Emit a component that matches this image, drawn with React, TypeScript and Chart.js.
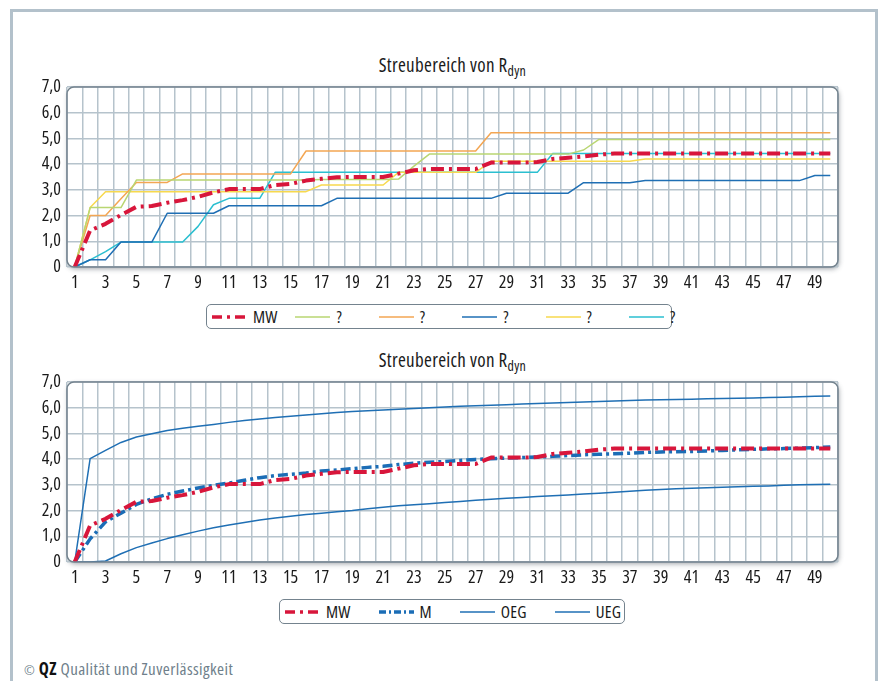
import React, { useEffect, useRef } from 'react';
import { Chart, registerables } from 'chart.js';

Chart.register(...registerables);

const FONT = "'Open Sans', 'DejaVu Sans Condensed', sans-serif";
const STRETCH = 'condensed';
const GRID = '#b6c3cc';
const FRAME = '#74838e';
const TEXT = '#1a1a1a';

const CATEGORIES = Array.from({ length: 50 }, (_, i) => String(i + 1));
const Y_TICK_LABELS = ['0', '1,0', '2,0', '3,0', '4,0', '5,0', '6,0', '7,0'];
const TITLE_MAIN = 'Streubereich von R';
const TITLE_SUB = 'dyn';

// top chart series
const MW = [0, 1.42, 1.68, 2.02, 2.34, 2.37, 2.5, 2.6, 2.73, 2.9, 3.03, 3.03, 3.03, 3.19, 3.23, 3.36, 3.43, 3.49, 3.5, 3.5, 3.5, 3.63, 3.76, 3.81, 3.81, 3.81, 3.81, 4.06, 4.06, 4.06, 4.08, 4.2, 4.25, 4.3, 4.37, 4.41, 4.41, 4.41, 4.41, 4.41, 4.41, 4.41, 4.41, 4.41, 4.41, 4.41, 4.41, 4.41, 4.41, 4.41];
const S_GREEN = [0, 2.31, 2.31, 2.31, 3.38, 3.38, 3.38, 3.38, 3.38, 3.38, 3.38, 3.38, 3.38, 3.38, 3.38, 3.38, 3.4, 3.4, 3.4, 3.4, 3.4, 3.42, 3.92, 4.39, 4.39, 4.39, 4.39, 4.39, 4.39, 4.39, 4.39, 4.39, 4.39, 4.55, 4.96, 4.96, 4.96, 4.96, 4.96, 4.96, 4.96, 4.96, 4.96, 4.96, 4.96, 4.96, 4.96, 4.96, 4.96, 4.96];
const S_ORANGE = [0, 2.0, 2.0, 2.65, 3.29, 3.29, 3.29, 3.62, 3.62, 3.62, 3.62, 3.62, 3.62, 3.62, 3.62, 4.51, 4.51, 4.51, 4.51, 4.51, 4.51, 4.51, 4.51, 4.51, 4.51, 4.51, 4.51, 5.22, 5.22, 5.22, 5.22, 5.22, 5.22, 5.22, 5.22, 5.22, 5.22, 5.22, 5.22, 5.22, 5.22, 5.22, 5.22, 5.22, 5.22, 5.22, 5.22, 5.22, 5.22, 5.22];
const S_BLUE = [0, 0.28, 0.28, 0.97, 0.97, 0.97, 2.09, 2.09, 2.09, 2.09, 2.38, 2.38, 2.38, 2.38, 2.38, 2.38, 2.38, 2.67, 2.67, 2.67, 2.67, 2.67, 2.67, 2.67, 2.67, 2.67, 2.67, 2.67, 2.87, 2.87, 2.87, 2.87, 2.87, 3.28, 3.28, 3.28, 3.28, 3.36, 3.36, 3.36, 3.36, 3.36, 3.36, 3.36, 3.36, 3.36, 3.36, 3.36, 3.56, 3.56];
const S_YELLOW = [0, 2.31, 2.93, 2.93, 2.93, 2.93, 2.93, 2.93, 2.93, 2.93, 2.93, 2.93, 2.93, 2.93, 2.93, 2.93, 3.19, 3.19, 3.19, 3.19, 3.19, 3.68, 3.68, 3.68, 3.68, 3.68, 3.68, 4.11, 4.11, 4.11, 4.11, 4.11, 4.11, 4.11, 4.11, 4.11, 4.11, 4.2, 4.2, 4.2, 4.2, 4.2, 4.2, 4.2, 4.2, 4.2, 4.2, 4.2, 4.2, 4.2];
const S_CYAN = [0, 0.28, 0.6, 0.97, 0.97, 0.97, 0.97, 0.97, 1.58, 2.42, 2.67, 2.67, 2.67, 3.68, 3.68, 3.68, 3.68, 3.68, 3.68, 3.68, 3.68, 3.68, 3.68, 3.68, 3.68, 3.68, 3.68, 3.68, 3.68, 3.68, 3.68, 4.41, 4.41, 4.41, 4.41, 4.41, 4.41, 4.41, 4.41, 4.41, 4.41, 4.41, 4.41, 4.41, 4.41, 4.41, 4.41, 4.41, 4.41, 4.41];

// bottom chart series
const M = [0, 0.9, 1.56, 1.9, 2.24, 2.46, 2.63, 2.76, 2.88, 2.98, 3.07, 3.18, 3.28, 3.36, 3.41, 3.46, 3.54, 3.58, 3.63, 3.68, 3.72, 3.79, 3.84, 3.88, 3.91, 3.95, 3.99, 4.02, 4.04, 4.06, 4.08, 4.11, 4.14, 4.17, 4.19, 4.21, 4.23, 4.26, 4.28, 4.29, 4.3, 4.32, 4.34, 4.36, 4.38, 4.4, 4.41, 4.43, 4.45, 4.47];
const OEG = [0, 4.02, 4.34, 4.65, 4.86, 4.99, 5.11, 5.2, 5.28, 5.35, 5.43, 5.5, 5.56, 5.62, 5.67, 5.72, 5.77, 5.81, 5.85, 5.88, 5.91, 5.94, 5.97, 6.0, 6.03, 6.06, 6.08, 6.1, 6.12, 6.14, 6.16, 6.18, 6.2, 6.22, 6.24, 6.26, 6.28, 6.3, 6.31, 6.32, 6.33, 6.35, 6.36, 6.37, 6.38, 6.4, 6.41, 6.43, 6.45, 6.46];
const UEG = [0, 0, 0.04, 0.32, 0.56, 0.74, 0.91, 1.06, 1.2, 1.33, 1.44, 1.54, 1.63, 1.71, 1.78, 1.85, 1.9, 1.95, 2.0, 2.07, 2.13, 2.19, 2.23, 2.27, 2.31, 2.35, 2.4, 2.44, 2.48, 2.51, 2.55, 2.58, 2.61, 2.64, 2.67, 2.71, 2.75, 2.79, 2.82, 2.85, 2.87, 2.89, 2.91, 2.93, 2.95, 2.96, 2.98, 3.0, 3.01, 3.02];

const RED = '#d8163b';
const BLUE_M = '#1b6db6';
const MW_DASH = [13, 5, 3, 5];
const M_DASH = [10, 4, 3, 4];

type DS = { label: string; data: number[]; color: string; width: number; dash?: number[]; legendDash?: string };

const TOP_SERIES: DS[] = [
  { label: 'MW', data: MW, color: RED, width: 4, dash: MW_DASH, legendDash: '10 5 3 5' },
  { label: '?', data: S_GREEN, color: '#b9d672', width: 1.5 },
  { label: '?', data: S_ORANGE, color: '#f3a653', width: 1.5 },
  { label: '?', data: S_BLUE, color: '#1f6fb4', width: 1.5 },
  { label: '?', data: S_YELLOW, color: '#f7d94e', width: 1.5 },
  { label: '?', data: S_CYAN, color: '#2bbfd0', width: 1.5 },
];

const BOTTOM_SERIES: DS[] = [
  { label: 'MW', data: MW, color: RED, width: 4, dash: MW_DASH, legendDash: '10 5 3 5' },
  { label: 'M', data: M, color: BLUE_M, width: 3.5, dash: M_DASH, legendDash: '7 3 2 3' },
  { label: 'OEG', data: OEG, color: '#1f6fb4', width: 1.5 },
  { label: 'UEG', data: UEG, color: '#1f6fb4', width: 1.5 },
];

const plotFrame = {
  id: 'plotFrame',
  beforeDraw(chart: any) {
    const { ctx, chartArea: a } = chart;
    ctx.save();
    ctx.shadowColor = 'rgba(50,60,70,0.45)';
    ctx.shadowBlur = 5;
    ctx.shadowOffsetX = 1;
    ctx.shadowOffsetY = 2;
    ctx.fillStyle = '#ffffff';
    ctx.beginPath();
    ctx.roundRect(a.left, a.top, a.right - a.left, a.bottom - a.top, 7);
    ctx.fill();
    ctx.restore();
  },
  afterDraw(chart: any) {
    const { ctx, chartArea: a } = chart;
    ctx.save();
    ctx.strokeStyle = FRAME;
    ctx.lineWidth = 1.5;
    ctx.beginPath();
    ctx.roundRect(a.left, a.top, a.right - a.left, a.bottom - a.top, 7);
    ctx.stroke();
    ctx.restore();
  },
};

const PAD_TOP = 18;
const PLOT_H = 180;
const XAXIS_H = 26;
const CANVAS_H = PAD_TOP + PLOT_H + XAXIS_H;

function LineChart({ top, series }: { top: number; series: DS[] }) {
  const ref = useRef<HTMLCanvasElement | null>(null);
  useEffect(() => {
    if (!ref.current) return;
    const tickFont = { family: "'Open Sans'", size: 18, weight: STRETCH };
    const chart = new Chart(ref.current, {
      type: 'line',
      data: {
        labels: CATEGORIES,
        datasets: series.map((s) => ({
          label: s.label,
          data: s.data,
          borderColor: s.color,
          backgroundColor: s.color,
          borderWidth: s.width,
          borderDash: s.dash || [],
          borderCapStyle: 'butt',
          borderJoinStyle: 'round',
          pointRadius: 0,
          tension: 0,
          fill: false,
        })),
      },
      options: {
        responsive: false,
        animation: false,
        layout: { padding: { left: 10, right: 44, top: PAD_TOP, bottom: 0 } },
        plugins: { legend: { display: false }, title: { display: false }, tooltip: { enabled: false } },
        scales: {
          x: {
            type: 'category',
            offset: true,
            grid: { offset: true, color: GRID, lineWidth: 1.5, drawTicks: false },
            border: { display: false },
            ticks: {
              autoSkip: false,
              maxRotation: 0,
              minRotation: 0,
              padding: 5,
              color: TEXT,
              font: tickFont,
              callback: (_v: any, i: number) => (i % 2 === 0 ? CATEGORIES[i] : ''),
            },
            afterFit: (s: any) => { s.height = XAXIS_H; },
          },
          y: {
            min: 0,
            max: 7,
            grid: { color: GRID, lineWidth: 1.5, drawTicks: false },
            border: { display: false },
            ticks: {
              stepSize: 1,
              padding: 6,
              color: TEXT,
              font: tickFont,
              callback: (v: any) => Y_TICK_LABELS[Math.round(Number(v))],
            },
            afterFit: (s: any) => { s.width = 57; },
          },
        },
      } as any,
      plugins: [plotFrame],
    });
    return () => chart.destroy();
  }, [series]);
  return (
    <canvas
      ref={ref}
      width={882}
      height={CANVAS_H}
      style={{ position: 'absolute', left: 0, top, width: 882, height: CANVAS_H }}
    />
  );
}

function Title({ top }: { top: number }) {
  return (
    <div
      style={{
        position: 'absolute', left: 67, width: 771, top, textAlign: 'center',
        fontFamily: FONT, fontStretch: STRETCH, fontSize: 19, letterSpacing: '0.3px',
        lineHeight: '22px', color: TEXT, whiteSpace: 'nowrap',
      }}
    >
      {TITLE_MAIN}
      <span style={{ fontSize: 14, verticalAlign: '-4px' }}>{TITLE_SUB}</span>
    </div>
  );
}

function Sample({ s }: { s: DS }) {
  return (
    <svg width={35} height={8} style={{ display: 'block', flex: '0 0 auto' }}>
      <line
        x1={0} y1={4} x2={35} y2={4}
        stroke={s.color}
        strokeWidth={s.dash ? 3.5 : 1.5}
        strokeDasharray={s.legendDash}
      />
    </svg>
  );
}

function Legend({ left, top, width, series, itemWidth, gap }: { left: number; top: number; width: number; series: DS[]; itemWidth?: number; gap?: number }) {
  return (
    <div
      style={{
        position: 'absolute', left, top, width, height: 25, boxSizing: 'border-box',
        border: `1.5px solid ${FRAME}`, borderRadius: 5, display: 'flex', alignItems: 'center',
        paddingLeft: 5, fontFamily: FONT, fontStretch: STRETCH, fontSize: 17, letterSpacing: '0.2px',
        color: TEXT, whiteSpace: 'nowrap',
      }}
    >
      {series.map((s, i) => (
        <div
          key={i}
          style={{
            display: 'flex', alignItems: 'center',
            width: itemWidth, marginRight: itemWidth ? 0 : gap, flex: '0 0 auto',
          }}
        >
          <Sample s={s} />
          <span style={{ marginLeft: 6, lineHeight: '20px' }}>{s.label}</span>
        </div>
      ))}
    </div>
  );
}

export default function App() {
  return (
    <div style={{ position: 'absolute', left: 0, top: 0, width: 882, height: 681, background: '#fff', overflow: 'hidden' }}>
      <div
        style={{
          position: 'absolute', left: 10, top: 9, width: 868, height: 700, boxSizing: 'border-box',
          border: '3px solid #b3c1cb',
        }}
      />
      <Title top={54} />
      <LineChart top={87 - PAD_TOP} series={TOP_SERIES} />
      <Legend left={206} top={304} width={466} series={TOP_SERIES} itemWidth={83.4} />
      <Title top={349} />
      <LineChart top={382 - PAD_TOP} series={BOTTOM_SERIES} />
      <Legend left={279} top={599} width={346} series={BOTTOM_SERIES} gap={28} />
      <div
        style={{
          position: 'absolute', left: 24, top: 659, fontFamily: FONT, fontStretch: STRETCH,
          fontSize: 17, letterSpacing: '0.4px', color: '#6f7f8b', lineHeight: '20px', whiteSpace: 'nowrap',
        }}
      >
        <span style={{ fontSize: 13 }}>©</span> <b style={{ color: '#111' }}>QZ</b> Qualität und Zuverlässigkeit
      </div>
    </div>
  );
}
